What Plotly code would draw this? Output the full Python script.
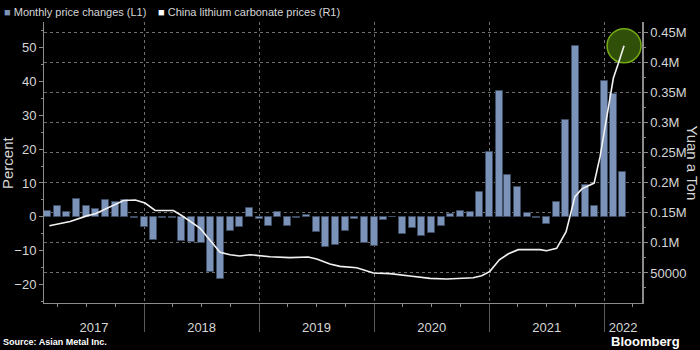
import plotly.graph_objects as go
import pandas as pd

# ---------------- data ----------------
bar_months = pd.date_range("2017-03-01", "2022-03-01", freq="MS")
pct_change = [1.7, 3.2, 1.4, 5.2, 3.2, 2.2, 5.1, 4.5, 4.9, -0.3,
              -3.0, -6.9, -0.3, -0.3, -7.3, -7.5, -7.7, -16.3, -18.5, -4.1,
              -3.0, 2.5, -0.7, -2.6, 1.3, -2.6, -0.3, 0.5, -4.6, -8.9,
              -8.3, -4.1, -0.8, -7.7, -8.6, -1.0, -0.2, -5.0, -3.3, -5.6,
              -4.7, -2.6, 0.7, 1.7, 1.3, 7.3, 19.3, 37.2, 12.5, 8.7,
              1.2, -0.3, -2.2, 4.5, 28.6, 50.6, 9.4, 3.2, 40.1, 36.3, 13.1]

price_dates = ["2017-03-06", "2017-05-11", "2017-07-03", "2017-07-30", "2017-10-28",
               "2017-12-04", "2018-01-04", "2018-02-05", "2018-04-04", "2018-05-05",
               "2018-06-27", "2018-07-29", "2018-08-30", "2018-10-01", "2018-11-01",
               "2018-12-03", "2019-02-05", "2019-04-09", "2019-06-06", "2019-07-03",
               "2019-08-14", "2019-09-15", "2019-11-07", "2019-12-30", "2020-02-21",
               "2020-04-24", "2020-06-27", "2020-08-19", "2020-11-11", "2020-12-08",
               "2021-01-03", "2021-02-02", "2021-03-03", "2021-04-03", "2021-06-11",
               "2021-07-02", "2021-08-03", "2021-09-02", "2021-09-30", "2021-10-22",
               "2021-11-30", "2021-12-19", "2022-01-14", "2022-01-30", "2022-02-15",
               "2022-03-05"]
price_yuan = [128700, 135800, 145000, 148600, 170700,
              171400, 166400, 154000, 154000, 144000,
              124800, 105000, 84300, 80400, 78300,
              80400, 77000, 75500, 76600, 73300,
              65000, 61000, 58800, 50000, 48900,
              45000, 41000, 40000, 42000, 45500,
              52700, 72000, 82000, 88800, 88800,
              87000, 91000, 118700, 177000, 190000,
              199600, 243900, 321500, 374000, 399000,
              428000]

years = ["2017", "2018", "2019", "2020", "2021", "2022"]
left_ticks = [-20, -10, 0, 10, 20, 30, 40, 50]
right_tickvals = [50000, 100000, 150000, 200000, 250000, 300000, 350000, 400000, 450000]
right_ticktext = ["50000", "0.1M", "0.15M", "0.2M", "0.25M", "0.3M", "0.35M", "0.4M", "0.45M"]

# ---------------- styling ----------------
FONT = "Liberation Sans"
AXIS = "#8c8c8c"
GRID = "#6e6e6e"
TXT = "#d6d6d6"
BAR = "#7b93b8"
x_start, x_end = pd.Timestamp("2017-02-17"), pd.Timestamp("2022-05-01")

# label position: middle of the visible part of each year
label_pos = []
for y in years:
    a = max(pd.Timestamp(f"{y}-01-01"), x_start)
    b = min(pd.Timestamp(f"{int(y)+1}-01-01"), x_end)
    label_pos.append(a + (b - a) / 2)

fig = go.Figure()
fig.add_trace(go.Bar(x=bar_months, y=pct_change, name="Monthly price changes (L1)",
                     marker=dict(color=BAR, line=dict(color="#3e4d63", width=1)),
                     width=22.2 * 86400000, xaxis="x", yaxis="y", showlegend=False))
# highlight circle on the latest price (drawn under the line)
fig.add_trace(go.Scatter(x=price_dates[-1:], y=price_yuan[-1:], mode="markers",
                         marker=dict(size=34, color="#30500a",
                                     line=dict(color="#74aa14", width=1.5)),
                         xaxis="x2", yaxis="y2", showlegend=False, hoverinfo="skip"))
fig.add_trace(go.Scatter(x=price_dates, y=price_yuan, name="China lithium carbonate prices (R1)",
                         mode="lines", line=dict(color="#f2f2f2", width=1.6),
                         xaxis="x2", yaxis="y2", showlegend=False))

fig.update_layout(
    width=700, height=350,
    margin=dict(l=44, r=58, t=22, b=47),
    paper_bgcolor="black", plot_bgcolor="black",
    font=dict(family=FONT, color=TXT, size=13),
    bargap=0,
    xaxis=dict(type="date", range=[x_start, x_end],
               tickmode="linear", tick0="2017-01-01", dtick="M12",
               ticks="outside", ticklen=28, tickcolor="#5a5a5a", tickwidth=1,
               showticklabels=False,
               showgrid=True, gridcolor=GRID, griddash="dot", gridwidth=1,
               showline=True, linecolor=AXIS, linewidth=1, zeroline=False,
               minor=dict(ticks="outside", ticklen=3, tickcolor=AXIS,
                          tick0="2017-01-01", dtick="M3", showgrid=False)),
    xaxis2=dict(type="date", overlaying="x", matches="x", side="bottom", anchor="y2",
                range=[x_start, x_end],
                tickmode="array", tickvals=label_pos, ticktext=years,
                ticks="outside", ticklen=12, tickcolor="rgba(0,0,0,0)",
                showline=False, showgrid=False, zeroline=False,
                tickfont=dict(size=13, color=TXT)),
    yaxis=dict(range=[-25.5, 57.6], tickmode="array", tickvals=left_ticks,
               ticks="outside", ticklen=4, tickcolor=AXIS,
               showgrid=False, zeroline=False,
               showline=True, linecolor=AXIS, linewidth=1,
               minor=dict(ticks="outside", ticklen=2, tickcolor=AXIS, tick0=5, dtick=10),
               tickfont=dict(size=13, color=TXT)),
    yaxis2=dict(range=[0, 467700], overlaying="y", side="right", anchor="x2",
                tickmode="array", tickvals=right_tickvals, ticktext=right_ticktext,
                ticks="outside", ticklen=4, tickcolor=AXIS,
                showgrid=True, gridcolor=GRID, griddash="dot", gridwidth=1,
                zeroline=False, showline=True, linecolor=AXIS, linewidth=1.5,
                minor=dict(ticks="outside", ticklen=2, tickcolor=AXIS,
                           tickvals=[25000, 75000, 125000, 175000, 225000, 275000,
                                     325000, 375000, 425000]),
                tickfont=dict(size=13, color=TXT)),
)

annos = [
    dict(text=f"<span style='color:{BAR}'>■</span> Monthly price changes (L1)",
         x=0, y=1, xref="paper", yref="paper", xanchor="left", yanchor="middle",
         xshift=-42, yshift=10, showarrow=False,
         font=dict(size=11, color=TXT)),
    dict(text="<span style='color:#ffffff'>■</span> China lithium carbonate prices (R1)",
         x=0, y=1, xref="paper", yref="paper", xanchor="left", yanchor="middle",
         xshift=112, yshift=10, showarrow=False,
         font=dict(size=11, color=TXT)),
    dict(text="Percent", x=0, y=0.5, xref="paper", yref="paper",
         xanchor="center", yanchor="middle", xshift=-36.5, textangle=-90,
         showarrow=False, font=dict(size=15, color=TXT)),
    dict(text="Yuan a Ton", x=1, y=0.5, xref="paper", yref="paper",
         xanchor="center", yanchor="middle", xshift=50, textangle=90,
         showarrow=False, font=dict(size=15, color=TXT)),
    dict(text="<b>Source: Asian Metal Inc.</b>", x=0, y=0, xref="paper", yref="paper",
         xanchor="left", yanchor="middle", xshift=-43, yshift=-39,
         showarrow=False, font=dict(size=9, color="#ffffff")),
    dict(text="<b>Bloomberg</b>", x=1, y=0, xref="paper", yref="paper",
         xanchor="right", yanchor="middle", xshift=40, yshift=-38,
         showarrow=False, font=dict(size=13, color="#ffffff")),
]
fig.update_layout(annotations=annos)

fig.write_html("out.html")
